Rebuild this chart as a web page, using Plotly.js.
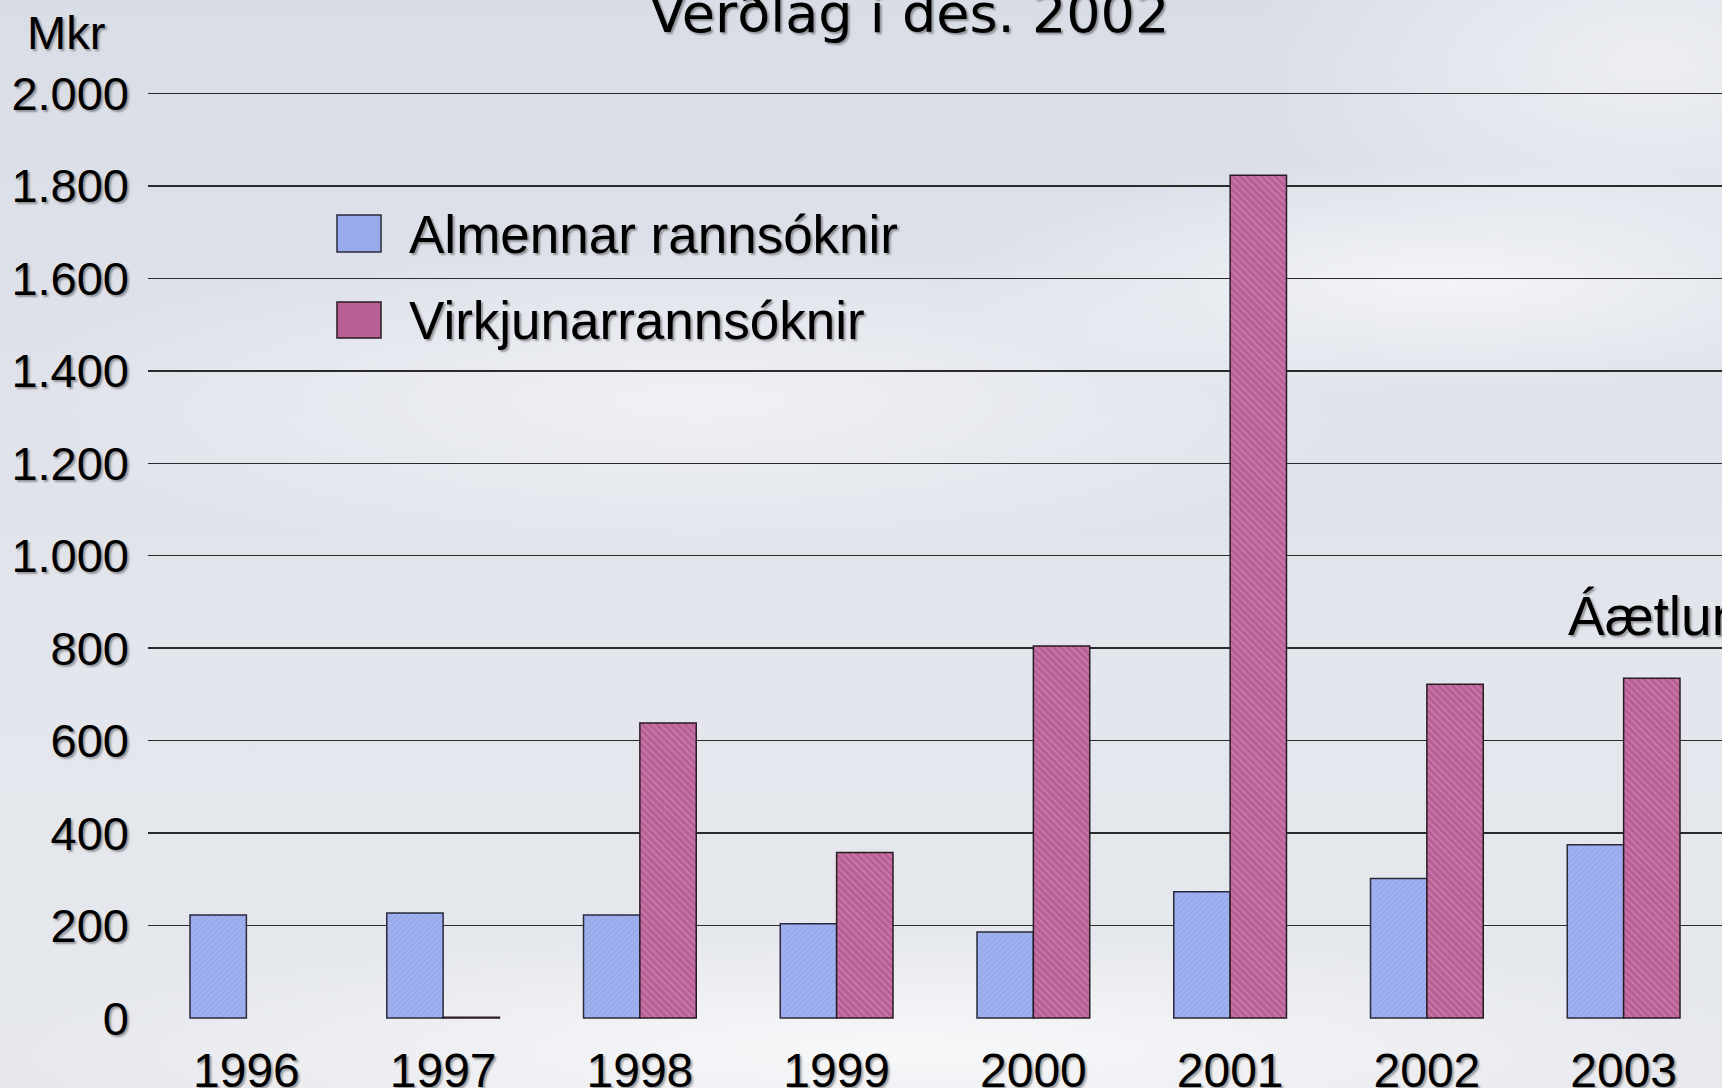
<!DOCTYPE html>
<html>
<head>
<meta charset="utf-8">
<script src="https://cdn.plot.ly/plotly-3.0.1.min.js"></script>
<style>
  html, body { margin: 0; padding: 0; width: 1722px; height: 1088px; overflow: hidden; }
  body {
    background:
      radial-gradient(ellipse 500px 120px at 1450px 280px, rgba(250,251,253,0.75), rgba(250,251,253,0) 100%),
      radial-gradient(ellipse 700px 160px at 700px 400px, rgba(246,247,250,0.7), rgba(246,247,250,0) 100%),
      radial-gradient(ellipse 900px 120px at 900px 1050px, rgba(252,252,253,0.8), rgba(252,252,253,0) 100%),
      radial-gradient(ellipse 400px 200px at 1650px 60px, rgba(245,246,249,0.7), rgba(245,246,249,0) 100%),
      linear-gradient(180deg, #d9dde6 0%, #dfe2ea 35%, #e3e6ec 65%, #e6e8ed 100%);
  }
  #chart { width: 1722px; height: 1088px; }
</style>
</head>
<body>
<div id="chart"></div>
<script>
const years = ['1996', '1997', '1998', '1999', '2000', '2001', '2002', '2003'];
const almennar = [223, 227, 223, 204, 186, 273, 302, 375];
const virkjunar = [null, 2, 638, 358, 805, 1823, 722, 735];
const seriesNames = ['Almennar rannsóknir', 'Virkjunarrannsóknir'];
const yTicks = [0, 200, 400, 600, 800, 1000, 1200, 1400, 1600, 1800, 2000];

const shadow = '2px 2px 2px rgba(0,0,0,0.35)';
const blue = '#98aaec';
const pink = '#b85f95';

const traces = [
  {
    type: 'bar', name: seriesNames[0], x: years, y: almennar,
    marker: {
      color: blue,
      line: { color: '#2a2a3a', width: 1.5 },
      pattern: { shape: '/', size: 4, solidity: 0.3, bgcolor: blue, fgcolor: '#b0bef4', fgopacity: 0.6 }
    },
    showlegend: false, hoverinfo: 'x+y'
  },
  {
    type: 'bar', name: seriesNames[1], x: years, y: virkjunar,
    marker: {
      color: pink,
      line: { color: '#2a1a22', width: 1.5 },
      pattern: { shape: '\\', size: 5, solidity: 0.3, bgcolor: pink, fgcolor: '#d890bb', fgopacity: 0.6 }
    },
    showlegend: false, hoverinfo: 'x+y'
  }
];

// paper-coordinate helpers (plot area: x 148..1722, y 92..1019)
const L = 148, R = 1722, T = 92, B = 1019;
const px = v => (v - L) / (R - L);
const py = v => (B - v) / (B - T);
const AR = '"Liberation Sans", Arial, sans-serif';

const layout = {
  width: 1722, height: 1088,
  margin: { l: L, r: 0, t: T, b: 1088 - B, pad: 0 },
  paper_bgcolor: 'rgba(0,0,0,0)',
  plot_bgcolor: 'rgba(0,0,0,0)',
  separators: ',.',
  barmode: 'group',
  bargap: 0.427,
  bargroupgap: 0,
  font: { family: AR, color: '#000' },
  xaxis: {
    type: 'category', range: [-0.5, 7.5], fixedrange: true,
    showgrid: false, zeroline: false, showline: false, ticks: '',
    ticklabelstandoff: 19,
    tickfont: { size: 48, family: AR, color: '#000', shadow: shadow }
  },
  yaxis: {
    range: [-2, 2003], fixedrange: true,
    tickvals: yTicks, separatethousands: true, tickformat: ',d',
    showgrid: true, gridcolor: '#2b2b2b', gridwidth: 1.5,
    zeroline: false, showline: false, ticks: '',
    ticklabelstandoff: 18,
    tickfont: { size: 47, family: AR, color: '#000', shadow: shadow }
  },
  shapes: [
    { type: 'rect', xref: 'paper', yref: 'paper', x0: px(337), x1: px(381), y0: py(252), y1: py(215),
      fillcolor: blue, line: { color: '#2a2a3a', width: 1.5 } },
    { type: 'rect', xref: 'paper', yref: 'paper', x0: px(337), x1: px(381), y0: py(338), y1: py(302),
      fillcolor: pink, line: { color: '#2a1a22', width: 1.5 } }
  ],
  annotations: [
    { text: seriesNames[0], xref: 'paper', yref: 'paper', x: px(407), y: py(234),
      xanchor: 'left', yanchor: 'middle', showarrow: false,
      font: { size: 53, family: AR, color: '#000', shadow: shadow } },
    { text: seriesNames[1], xref: 'paper', yref: 'paper', x: px(407), y: py(320),
      xanchor: 'left', yanchor: 'middle', showarrow: false,
      font: { size: 53, family: AR, color: '#000', shadow: shadow } },
    { text: 'Mkr', xref: 'paper', yref: 'paper', x: px(66), y: py(32),
      xanchor: 'center', yanchor: 'middle', showarrow: false,
      font: { size: 47, family: AR, color: '#000', shadow: shadow } },
    { text: 'Verðlag í des. 2002', xref: 'paper', yref: 'paper', x: px(909), y: py(14),
      xanchor: 'center', yanchor: 'middle', showarrow: false,
      font: { size: 54, family: '"DejaVu Sans", Verdana, sans-serif', color: '#000', shadow: shadow } },
    { text: 'Áætlun', xref: 'paper', yref: 'paper', x: px(1566), y: py(616),
      xanchor: 'left', yanchor: 'middle', showarrow: false,
      font: { size: 55, family: AR, color: '#000', shadow: shadow } }
  ]
};

Plotly.newPlot('chart', traces, layout, { displayModeBar: false, staticPlot: true });
</script>
</body>
</html>
